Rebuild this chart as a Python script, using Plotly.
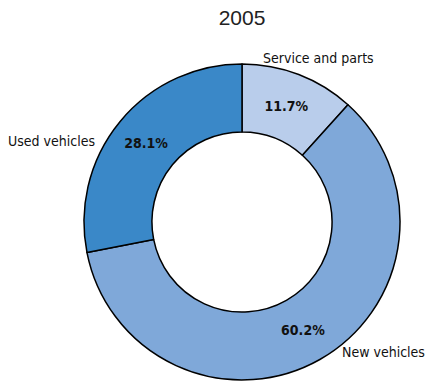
import plotly.graph_objects as go

categories = ["Service and parts", "New vehicles", "Used vehicles"]
values = [11.7, 60.2, 28.1]
colors = ["#b9cdeb", "#7fa8d9", "#3a88c8"]

W, H = 440, 383
COND = "DejaVu Sans Condensed, DejaVu Sans, sans-serif"

fig = go.Figure(go.Pie(
    labels=categories,
    values=values,
    sort=False,
    direction="clockwise",
    rotation=0,
    hole=0.57,
    marker=dict(colors=colors, line=dict(color="#000000", width=1.5)),
    texttemplate="<b>%{value:.1f}%</b>",
    textposition="inside",
    insidetextorientation="horizontal",
    textfont=dict(family=COND, size=14, color="#111111"),
    showlegend=False,
    hoverinfo="label+value",
))

# outside labels (text positions in pixels converted to paper coords)
label_pos = {
    "Service and parts": (318, 58, "center"),
    "Used vehicles": (97, 141, "right"),
    "New vehicles": (427, 352, "right"),
}
ml, mr, mt, mb = 84, 40, 64, 3
pw, ph = W - ml - mr, H - mt - mb
for cat in categories:
    px, py, anchor = label_pos[cat]
    fig.add_annotation(
        x=(px - ml) / pw, y=1 - (py - mt) / ph, xref="paper", yref="paper",
        text=cat, showarrow=False, xanchor=anchor, yanchor="middle",
        font=dict(family=COND, size=14, color="#111111"),
    )

fig.update_layout(
    width=W, height=H,
    margin=dict(l=ml, r=mr, t=mt, b=mb),
    paper_bgcolor="white", plot_bgcolor="white",
    title=dict(text="2005", x=(242) / W, xanchor="center", y=1 - 18 / H, yanchor="middle",
               font=dict(family="Liberation Sans, Arial, sans-serif", size=21, color="#222222")),
)

fig.write_html("out.html")
